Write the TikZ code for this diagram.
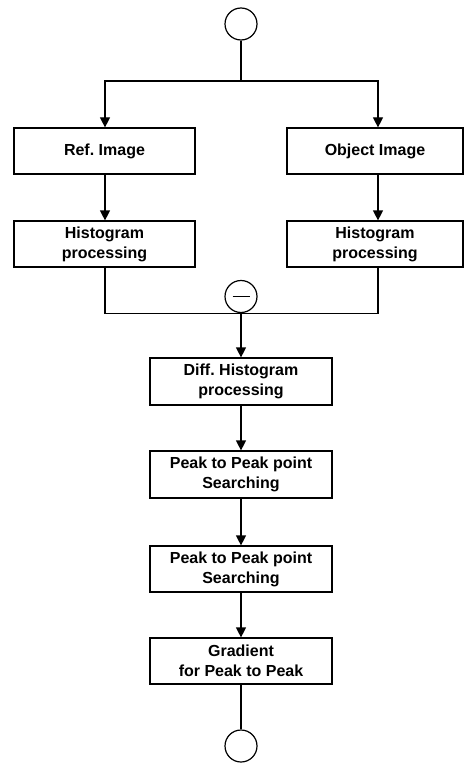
\documentclass[tikz,border=0pt]{standalone}
\usepackage{fontspec}
\setmainfont{Liberation Sans}
\usetikzlibrary{arrows.meta}
\begin{document}
\frenchspacing
\begin{tikzpicture}[x=1pt,y=-1pt,
  stepbox/.style={draw,line width=1.2pt,minimum height=46pt,align=center,inner sep=0pt,
    font=\fontsize{16}{20}\selectfont\bfseries},
  term/.style={draw,circle,line width=1.2pt,minimum size=32pt,inner sep=0pt},
  conn/.style={line width=1.2pt},
  arr/.style={conn,-{Triangle[length=10pt,width=10pt]}}]
\useasboundingbox (0,0) rectangle (463,765);
\node[term] (start) at (241,24) {};
\node[stepbox,minimum width=181pt] (ref) at (104.5,151) {Ref. Image};
\node[stepbox,minimum width=176pt] (obj) at (375,151) {Object Image};
\node[stepbox,minimum width=181pt] (h1) at (104.5,244) {Histogram\\processing};
\node[stepbox,minimum width=176pt] (h2) at (375,244) {Histogram\\processing};
\node[term] (minus) at (241,296.5) {};
\draw[line width=1.2pt] ([xshift=-8.5pt]minus.center) -- ([xshift=8.5pt]minus.center);
\node[stepbox,minimum width=182pt,minimum height=47pt] (diff) at (241,381.5) {Diff. Histogram\\processing};
\node[stepbox,minimum width=182pt,minimum height=47pt] (p1) at (241,474.5) {Peak to Peak point\\Searching};
\node[stepbox,minimum width=182pt,minimum height=46pt] (p2) at (241,569) {Peak to Peak point\\Searching};
\node[stepbox,minimum width=182pt,minimum height=46pt] (grad) at (241,661) {Gradient\\for Peak to Peak};
\node[term] (stop) at (241,746) {};
\coordinate (split) at (241,81);
\draw[conn] (start.south) -- (split);
\draw[arr] (split) -| (ref.north -| 105,0);
\draw[arr] (split) -| (obj.north -| 378,0);
\draw[arr] (ref.south -| 105,0) -- (h1.north -| 105,0);
\draw[arr] (obj.south -| 378,0) -- (h2.north -| 378,0);
\draw[conn] (h1.south -| 105,0) |- (minus.south);
\draw[conn] (h2.south -| 378,0) |- (minus.south);
\draw[arr] (minus.south) -- (diff.north);
\draw[arr] (diff) -- (p1);
\draw[arr] (p1) -- (p2);
\draw[arr] (p2) -- (grad);
\draw[conn] (grad) -- (stop);
\end{tikzpicture}
\end{document}
